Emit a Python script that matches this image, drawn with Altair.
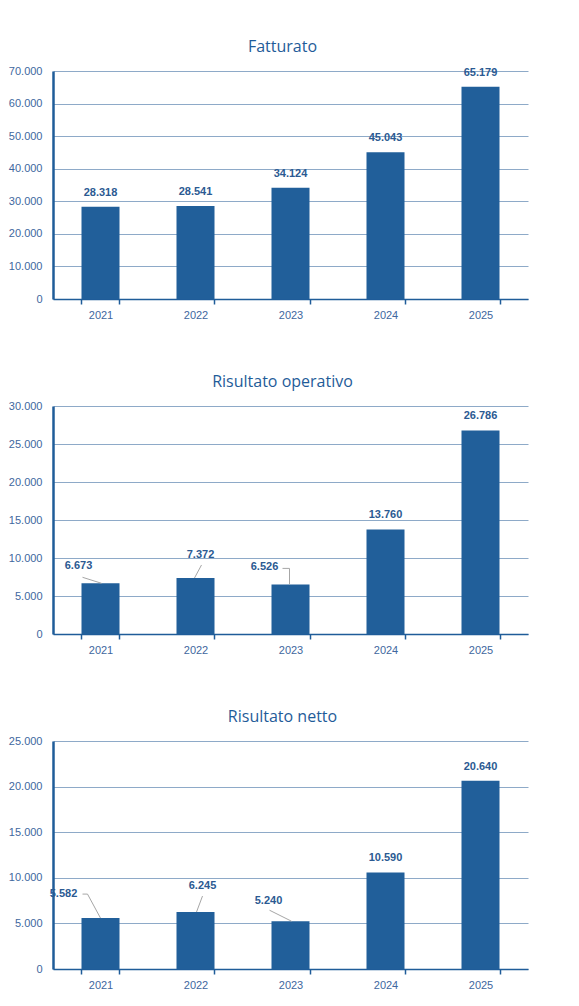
import altair as alt
import pandas as pd

# ---- data ----
years = ["2021", "2022", "2023", "2024", "2025"]
fatturato = [28318, 28541, 34124, 45043, 65179]
operativo = [6673, 7372, 6526, 13760, 26786]
netto = [5582, 6245, 5240, 10590, 20640]

titles = ["Fatturato", "Risultato operativo", "Risultato netto"]
y_max = [70000, 30000, 25000]
y_step = [10000, 5000, 5000]

# ---- style ----
BAR = "#215f9a"
DARK = "#1f5c99"
GRID = "#8eaac8"
AXLAB = "#41679e"
VALLAB = "#2b5a92"
LEADER = "#a6a6a6"

# callout label offsets (pixels, relative to bar top centre)
off_fat = {}
off_op = {"2021": (-22, -17), "2022": (5, -23), "2023": (-26, -17)}
off_net = {"2021": (-37, -24), "2022": (7, -26), "2023": (-22, -20)}
# leader segments: (x1, y1, x2, y2) pixel offsets from bar top centre
lead_fat = {}
lead_op = {"2021": [(1, 0, -18, -6)],
           "2022": [(-1, 0, 6, -13)],
           "2023": [(-1, 0, -1, -16), (-1, -16, -8, -16)]}
lead_net = {"2021": [(0, 0, -13, -24), (-13, -24, -18, -24)],
            "2022": [(1, 0, 7, -16)],
            "2023": [(1, 0, -21, -11)]}


def it_fmt(v):
    return f"{v:,}".replace(",", ".")


def panel(title, values, ymax, step, lab_off, leaders):
    df = pd.DataFrame({"year": years, "value": values,
                       "label": [it_fmt(v) for v in values]})
    x = alt.X("year:N", title=None,
              scale=alt.Scale(paddingInner=0.6, paddingOuter=0.3),
              axis=alt.Axis(labelAngle=0, tickBand="extent", ticks=True, tickSize=5,
                            tickColor=DARK, tickWidth=1.5, domainColor=DARK, domainWidth=1.5,
                            labelColor=AXLAB, labelFont="Liberation Sans", labelFontSize=11,
                            labelPadding=5, grid=False))
    y = alt.Y("value:Q", title=None,
              scale=alt.Scale(domain=[0, ymax], nice=False),
              axis=alt.Axis(values=list(range(0, ymax + 1, step)),
                            labelExpr="replace(format(datum.value, ','), ',', '.')",
                            ticks=False, domainColor=DARK, domainWidth=2.5,
                            gridColor=GRID, gridWidth=1,
                            labelColor=AXLAB, labelFont="Liberation Sans", labelFontSize=11,
                            labelPadding=11))
    base = alt.Chart(df).encode(x=x, y=y)
    layers = [base.mark_bar(color=BAR)]
    plain = [yr for yr in years if yr not in lab_off]
    txt = dict(font="Liberation Sans", fontSize=11, fontWeight="bold", color=VALLAB,
               baseline="middle", align="center")
    layers.append(
        base.transform_filter(alt.FieldOneOfPredicate(field="year", oneOf=plain))
        .mark_text(dy=-14, **txt).encode(text="label:N"))
    for yr, (dx, dy) in lab_off.items():
        layers.append(
            base.transform_filter(alt.datum.year == yr)
            .mark_text(dx=dx, dy=dy, **txt).encode(text="label:N"))
    for yr, segs in leaders.items():
        for (x1, y1, x2, y2) in segs:
            layers.append(
                base.transform_filter(alt.datum.year == yr)
                .mark_rule(color=LEADER, strokeWidth=1,
                           xOffset=x1, yOffset=y1, x2Offset=x2, y2Offset=y2)
                .encode(x2=alt.X2("year"), y2=alt.Y2("value")))
    return alt.layer(*layers).properties(
        width=475, height=228,
        title=alt.TitleParams(title, font="Open Sans", fontSize=16, fontWeight="normal",
                              color=DARK, anchor="middle", offset=10, dx=-8))


charts = [
    panel(titles[0], fatturato, y_max[0], y_step[0], off_fat, lead_fat),
    panel(titles[1], operativo, y_max[1], y_step[1], off_op, lead_op),
    panel(titles[2], netto, y_max[2], y_step[2], off_net, lead_net),
]

chart = alt.vconcat(*charts, spacing=54).properties(
    padding={"top": 39, "left": 8, "right": 40, "bottom": 5}
).configure_view(stroke=None)

chart.save("out.html", embed_options={"renderer": "svg", "actions": False})
